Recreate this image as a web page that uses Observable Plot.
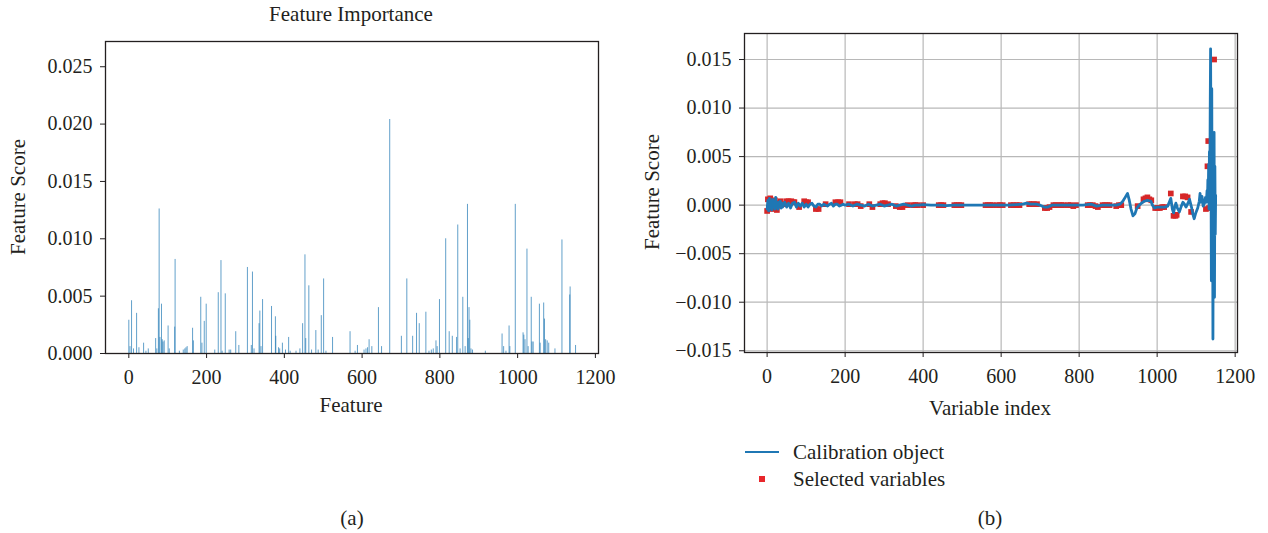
<!DOCTYPE html>
<html>
<head>
<meta charset="utf-8">
<script src="https://cdn.jsdelivr.net/npm/d3@7"></script>
<script src="https://cdn.jsdelivr.net/npm/@observablehq/plot@0.6"></script>
<style>
  body { margin: 0; background: #fff; }
  #fig { position: relative; width: 1268px; height: 533px; background: #fff; font-family: "Liberation Serif", "DejaVu Serif", serif; color: #231f20; overflow: hidden; }
  #fig > svg, #fig > div.plot { position: absolute; top: 0; }
  .t { position: absolute; font-size: 21px; white-space: nowrap; line-height: 1; }
</style>
</head>
<body>
<div id="fig"></div>
<script>
// ---------- Panel (a): feature importance ----------
const featureTicks = [0, 200, 400, 600, 800, 1000, 1200];
const scoreTicksA = [0, 0.005, 0.010, 0.015, 0.020, 0.025];
// [feature index, importance score]
const importance = [
  [0,0.0029],[3,0.0006],[7,0.0046],[12,0.0004],[20,0.0035],[26,0.0005],[38,0.0009],[44,0.0002],[50,0.0004],
  [69,0.0013],[72,0.0004],[76,0.0039],[78,0.0126],[80,0.0014],[84,0.0043],[86,0.0012],[88,0.0010],[91,0.0011],
  [101,0.0024],[104,0.0004],[118,0.0023],[119,0.0082],[130,0.0002],[140,0.0003],[144,0.0004],[147,0.0005],
  [150,0.0006],[164,0.0022],[166,0.0011],[185,0.0049],[188,0.0009],[194,0.0028],[199,0.0043],[221,0.0003],
  [230,0.0053],[237,0.0081],[240,0.0002],[248,0.0052],[258,0.0003],[262,0.0003],[275,0.0019],[283,0.0007],
  [305,0.0075],[315,0.0007],[318,0.0071],[322,0.0004],[335,0.0026],[337,0.0037],[340,0.0006],[344,0.0047],
  [367,0.0041],[377,0.0032],[378,0.0015],[385,0.0005],[388,0.0004],[395,0.0009],[403,0.0003],[411,0.0014],
  [415,0.0002],[430,0.0002],[440,0.0004],[447,0.0026],[453,0.0086],[455,0.0013],[463,0.0059],[470,0.0003],
  [481,0.0020],[487,0.0003],[495,0.0033],[501,0.0065],[507,0.0002],[524,0.0014],[569,0.0019],[582,0.0002],
  [588,0.0007],[605,0.0003],[610,0.0004],[614,0.0005],[618,0.0012],[625,0.0006],[642,0.0040],[650,0.0006],
  [671,0.0204],[701,0.0015],[715,0.0065],[730,0.0015],[740,0.0035],[747,0.0026],[764,0.0036],[772,0.0002],
  [778,0.0003],[783,0.0004],[790,0.0011],[793,0.0006],[799,0.0047],[815,0.0100],[824,0.0019],[832,0.0015],
  [843,0.0014],[846,0.0112],[852,0.0004],[859,0.0049],[865,0.0006],[871,0.0130],[873,0.0013],[875,0.0040],
  [877,0.0029],[880,0.0004],[884,0.0003],[917,0.0002],[960,0.0017],[964,0.0006],[970,0.0002],[978,0.0024],
  [980,0.0006],[994,0.0130],[1014,0.0018],[1016,0.0016],[1019,0.0012],[1024,0.0091],[1027,0.0006],[1035,0.0049],
  [1037,0.0010],[1040,0.0010],[1056,0.0043],[1058,0.0009],[1067,0.0044],[1069,0.0030],[1072,0.0012],[1076,0.0011],
  [1080,0.0009],[1096,0.0004],[1114,0.0099],[1134,0.0051],[1135,0.0058],[1149,0.0007]
];

// ---------- Panel (b): calibration object & selected variables ----------
const variableTicks = [0, 200, 400, 600, 800, 1000, 1200];
const scoreTicksB = [-0.015, -0.010, -0.005, 0, 0.005, 0.010, 0.015];
// [variable index, feature score]
const calibration = [
  [0,-0.0004],[2,0.0005],[4,-0.0006],[6,0.0007],[8,-0.0003],[10,0.0004],[12,-0.0005],[14,0.0006],[16,-0.0002],
  [18,0.0003],[20,-0.0004],[22,0.0008],[24,-0.0003],[26,0.0002],[28,-0.0004],[30,0.0003],[32,-0.0002],[34,0.0004],
  [36,-0.0003],[38,0.0002],[40,-0.0002],[45,0.0003],[50,-0.0002],[55,0.0002],[60,-0.0003],[65,0.0002],[70,0.0003],
  [75,-0.0002],[80,0.0002],[85,-0.0001],[90,0.0002],[95,-0.0002],[100,0.0001],[105,-0.0002],[110,0.0001],[115,0.0002],
  [120,-0.0001],[125,-0.0002],[130,0.0001],[135,0.0001],[140,-0.0001],[145,0.0001],[150,0],[155,-0.0001],[160,0.0001],
  [165,0.0002],[170,-0.0001],[175,0.0001],[180,0.0001],[185,-0.0001],[190,0],[195,0.0001],[200,0],[210,0.0001],
  [220,-0.0001],[230,0.0001],[240,0],[250,-0.0001],[260,0.0001],[270,-0.0001],[280,0],[290,0.0001],[300,-0.0001],
  [310,0],[320,0.0001],[330,-0.0001],[340,0],[350,0.0001],[360,0],[370,-0.0001],[380,0],[390,0],[400,0.00005],
  [420,0],[440,0],[460,-0.00005],[480,0],[500,0],[520,0],[540,0],[560,0],[580,0],[600,0],[620,0],[640,0.00005],
  [655,0.0001],[665,0.0002],[675,0.0001],[690,0.0001],[700,0],[710,-0.0002],[720,-0.0002],[730,0],[750,0],[770,0],
  [790,0],[810,0],[830,0.0001],[845,-0.0001],[860,0],[880,0],[895,0],[905,0.0001],[912,0.0004],[918,0.0008],
  [924,0.0012],[928,0.0006],[933,-0.0004],[938,-0.0011],[943,-0.0009],[948,-0.0003],[954,0],[960,0.0002],[967,0.0004],
  [975,0.0005],[984,0.0004],[988,0],[993,-0.0003],[1000,-0.0002],[1010,-0.0002],[1020,-0.0002],[1027,-0.0001],
  [1031,0.0003],[1035,0.0007],[1039,-0.0004],[1042,-0.0008],[1045,-0.0002],[1048,0.0002],[1052,-0.0003],[1057,-0.0007],
  [1062,-0.0001],[1066,0.0003],[1070,0.0001],[1074,-0.0002],[1079,0.0002],[1083,0.0006],[1088,-0.0002],[1092,-0.0010],
  [1095,-0.0014],[1099,-0.0008],[1104,-0.0003],[1108,0.0004],[1110,0.0012],[1112,0.0003],[1115,0.0009],[1118,-0.0001],
  [1121,0.0002],[1124,0.0008],[1126,0.0003],[1128,0.0015],[1129,0.0004],[1130,0.0026],[1131,0.0008],[1132,0.0042],
  [1133,-0.0004],[1134,0.0055],[1135,0.0015],[1136,0.0098],[1137,0.0161],[1138,0.0045],[1139,-0.0078],[1140,0.0120],
  [1141,-0.0050],[1142,0.0060],[1143,-0.0138],[1144,0.0010],[1145,-0.0080],[1146,0.0075],[1147,-0.0095],[1148,0.0040],
  [1149,-0.0030],[1150,0.0010]
];
// [variable index, feature score] of the selected variables
const selected = [
  [0,-0.0006],[2,0.0006],[5,-0.0003],[8,0.0007],[12,-0.0004],[16,0.0003],[20,0.0005],[25,-0.0005],[30,0.0002],
  [35,0.0004],[45,0.0001],[50,0.0004],[55,0.0004],[62,0.0004],[68,0.0003],[70,0.0003],[82,-0.0002],[95,0.0004],
  [100,0.0003],[105,0.0003],[125,-0.0004],[132,-0.0004],[150,0.0001],[175,0.0003],[182,0.0003],[188,0.0003],
  [210,0.0001],[225,0.0001],[232,0.0001],[240,-0.0001],[262,0.0001],[270,-0.0002],[290,0.0001],[296,0.0002],
  [302,0.0002],[310,0.0001],[330,-0.0001],[340,-0.0002],[347,-0.0002],[360,0],[374,0],[380,0],[386,0],[400,0],
  [440,0],[446,0],[452,0],[480,0],[486,0],[492,0],[498,0],[560,0],[566,0],[572,0],[578,0],[590,0],[597,0],[604,0],
  [625,0],[632,0],[640,0],[647,0],[672,0.0001],[678,0.0001],[684,0.0001],[692,0.0001],[712,-0.0003],[718,-0.0003],
  [724,-0.0002],[734,0],[740,0],[748,0],[754,0],[760,0],[772,0],[778,0],[785,-0.0001],[792,0],[822,0],[828,0],
  [835,0],[842,-0.0001],[848,-0.0002],[860,0],[866,0],[872,0],[878,0],[895,-0.0001],[902,0],[908,0],[950,-0.0001],
  [965,0.0006],[970,0.0007],[975,0.0008],[980,0.0006],[985,0.0005],[995,-0.0003],[1001,-0.0003],[1007,-0.0003],
  [1013,-0.0002],[1018,-0.0002],[1035,0.0012],[1042,-0.0011],[1047,-0.0011],[1050,-0.0010],[1066,0.0009],
  [1072,0.0009],[1078,0.0008],[1087,-0.0007],[1125,-0.0004],[1129,0.0040],[1131,0.0066],[1133,-0.0003],[1146,0.0150]
];

const ink = "#231f20";
const font = '"Liberation Serif", "DejaVu Serif", serif';
const fig = document.getElementById("fig");

const plotA = Plot.plot({
  width: 620, height: 440,
  marginLeft: 105, marginRight: 22, marginTop: 41, marginBottom: 87,
  style: { fontFamily: font, fontSize: "20px", color: ink, background: "transparent" },
  x: { domain: [-60, 1208], ticks: featureTicks, tickFormat: d => String(d), label: null, tickSize: 5, tickPadding: 11 },
  y: { domain: [0, 0.0272], ticks: scoreTicksA, tickFormat: d3.format(".3f"), label: null, tickSize: 5, tickPadding: 8 },
  marks: [
    Plot.ruleX(importance, { x: d => d[0], y1: 0, y2: d => d[1], stroke: "#1f77b4", strokeOpacity: 0.7, strokeWidth: 1 }),
    Plot.frame({ stroke: ink, strokeWidth: 1.3 })
  ]
});
plotA.style.left = "0px";
fig.appendChild(plotA);

const plotB = Plot.plot({
  width: 648, height: 440,
  marginLeft: 124, marginRight: 31, marginTop: 33, marginBottom: 88,
  style: { fontFamily: font, fontSize: "20px", color: ink, background: "transparent" },
  x: { domain: [-58, 1206], ticks: variableTicks, tickFormat: d => String(d), label: null, tickSize: 5, tickPadding: 11 },
  y: { domain: [-0.01518, 0.01768], ticks: scoreTicksB, tickFormat: d3.format(".3f"), label: null, tickSize: 5, tickPadding: 8 },
  marks: [
    Plot.ruleX(variableTicks, { x: d => d, stroke: "#b8b8b8", strokeWidth: 1.2 }),
    Plot.ruleY(scoreTicksB, { y: d => d, stroke: "#b8b8b8", strokeWidth: 1.2 }),
    Plot.dot(selected, { x: d => d[0], y: d => d[1], symbol: "square", fill: "#d62728", r: 3.2 }),
    Plot.line(calibration, { x: d => d[0], y: d => d[1], stroke: "#1f77b4", strokeWidth: 2.8 }),
    Plot.frame({ stroke: ink, strokeWidth: 1.3 })
  ]
});
plotB.style.left = "620px";
fig.appendChild(plotB);

// ---------- Text ----------
function addText(txt, x, y, opts = {}) {
  const d = document.createElement("div");
  d.className = "t";
  d.textContent = txt;
  d.style.left = x + "px";
  d.style.top = y + "px";
  let tr = "translate(-50%,-50%)";
  if (opts.rotate) tr += " rotate(-90deg)";
  if (opts.leftAlign) tr = "translate(0,-50%)";
  d.style.transform = tr;
  fig.appendChild(d);
}
addText("Feature Importance", 351, 14);
addText("Feature Score", 18, 197, { rotate: true });
addText("Feature", 351, 405);
addText("Feature Score", 652, 192, { rotate: true });
addText("Variable index", 990, 408);
addText("(a)", 352, 518);
addText("(b)", 990, 518);

// legend
const legendEntries = ["Calibration object", "Selected variables"];
const lg = document.createElementNS("http://www.w3.org/2000/svg", "svg");
lg.setAttribute("width", 40); lg.setAttribute("height", 50);
lg.style.position = "absolute"; lg.style.left = "742px"; lg.style.top = "440px";
lg.innerHTML = '<line x1="3" x2="37" y1="12" y2="12" stroke="#1f77b4" stroke-width="2"/>' +
               '<rect x="17" y="36" width="6" height="6" fill="#e8262b"/>';
fig.appendChild(lg);
addText(legendEntries[0], 793, 452, { leftAlign: true });
addText(legendEntries[1], 793, 479, { leftAlign: true });
</script>
</body>
</html>
